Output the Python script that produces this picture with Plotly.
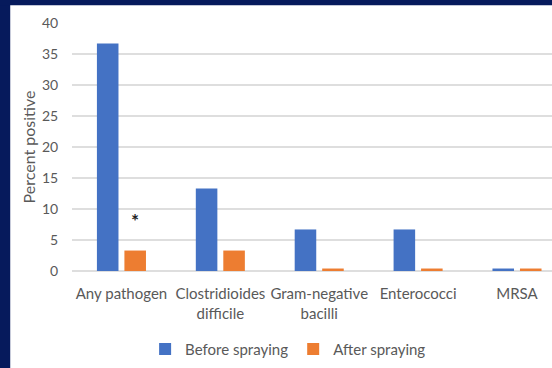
import plotly.graph_objects as go

# Percentage of surface cultures positive, before and after spraying
categories = ["Any pathogen", "Clostridioides<br>difficile", "Gram-negative<br>bacilli",
              "Enterococci", "MRSA"]
before_spraying = [36.7, 13.3, 6.7, 6.7, 0.4]
after_spraying = [3.3, 3.3, 0.4, 0.4, 0.4]
y_ticks = [0, 5, 10, 15, 20, 25, 30, 35, 40]

BLUE = "#4472C4"
ORANGE = "#ED7D31"
GREY_TEXT = "#595959"
NAVY = "#061a5c"
FONT = "Lato, Open Sans, sans-serif"

x_idx = list(range(len(categories)))
bar_w = 0.218

fig = go.Figure()
fig.add_trace(go.Bar(
    name="Before spraying", x=x_idx, y=before_spraying,
    width=bar_w, offset=-0.248, marker=dict(color=BLUE, line=dict(width=0)),
))
fig.add_trace(go.Bar(
    name="After spraying", x=x_idx, y=after_spraying,
    width=bar_w, offset=0.030, marker=dict(color=ORANGE, line=dict(width=0)),
))

# significance marker above the first "after" bar
fig.add_annotation(x=0.139, y=8.1, text="<b>*</b>", showarrow=False,
                   font=dict(family=FONT, size=19, color="#222222"))

# navy slide frame on the left and top edges
fig.add_shape(type="rect", xref="paper", yref="paper",
              x0=-0.2, x1=(10 - 71.8) / 480.2, y0=-0.5, y1=1.2,
              fillcolor=NAVY, line=dict(width=0), layer="above")
fig.add_shape(type="rect", xref="paper", yref="paper",
              x0=-0.2, x1=1.1, y0=(271.5 - 5) / 248.8, y1=1.2,
              fillcolor=NAVY, line=dict(width=0), layer="above")

fig.update_layout(
    width=552, height=368,
    margin=dict(l=72, r=0, t=23, b=97),
    paper_bgcolor="white", plot_bgcolor="white",
    barmode="overlay",
    font=dict(family=FONT, color=GREY_TEXT),
    showlegend=True,
    legend=dict(orientation="h", x=(288 - 71.8) / 480.2, xanchor="center",
                y=(271.5 - 350) / 248.8, yanchor="middle",
                font=dict(family=FONT, size=15, color=GREY_TEXT),
                itemwidth=30, traceorder="normal"),
    xaxis=dict(
        tickmode="array", tickvals=x_idx, ticktext=categories,
        range=[-0.5, 4.354], showgrid=False, zeroline=False, showline=False,
        tickfont=dict(family=FONT, size=15, color=GREY_TEXT),
        ticks="outside", ticklen=9, tickcolor="rgba(0,0,0,0)",
    ),
    yaxis=dict(
        range=[0, 40], tickvals=y_ticks,
        showgrid=True, gridcolor="#dedede", gridwidth=1.5,
        zeroline=True, zerolinecolor="#dedede", zerolinewidth=1.5,
        showline=False,
        tickfont=dict(family=FONT, size=14, color=GREY_TEXT),
        ticks="outside", ticklen=10, tickcolor="rgba(0,0,0,0)",
        title=dict(text="Percent positive", standoff=2,
                   font=dict(family=FONT, size=16, color=GREY_TEXT)),
    ),
)

fig.write_html("out.html")
